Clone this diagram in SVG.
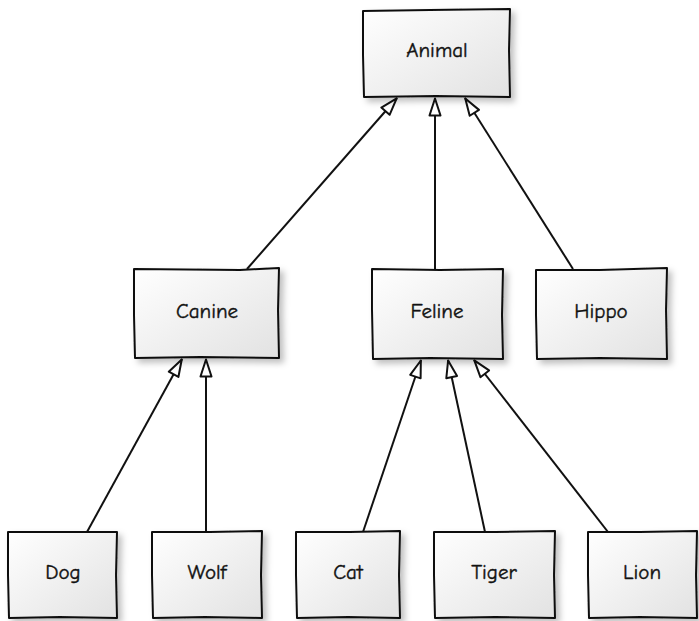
<svg xmlns="http://www.w3.org/2000/svg" width="699" height="621" viewBox="0 0 699 621">
  <style>
    .box { fill: url(#boxFill); stroke: #111; stroke-width: 2; stroke-linejoin: round; filter: url(#shadow); }
    .label { font-family: "Comic Neue", "DejaVu Sans", sans-serif; font-size: 21px; fill: #111; stroke: #111; stroke-width: 0.4; text-anchor: middle; dominant-baseline: central; }
    .edge { fill: none; stroke: #111; stroke-width: 2; marker-end: url(#inherit); }
  </style>
  <defs>
    <linearGradient id="boxFill" x1="0" y1="0" x2="1" y2="1">
      <stop offset="0" stop-color="#ffffff"/>
      <stop offset="1" stop-color="#e2e2e2"/>
    </linearGradient>
    <filter id="shadow" x="-10%" y="-10%" width="130%" height="130%">
      <feDropShadow dx="4" dy="4" stdDeviation="3" flood-color="#000" flood-opacity="0.25"/>
    </filter>
    <marker id="inherit" viewBox="0 0 20 14" refX="19" refY="7" markerWidth="20" markerHeight="14" markerUnits="userSpaceOnUse" orient="auto">
      <path d="M1.5,1.5 L18.5,7 L1.5,12.5 Z" fill="#fff" stroke="#111" stroke-width="2" stroke-linejoin="round"/>
    </marker>
  </defs>

  <!-- inheritance connectors: child -> parent -->
  <g id="connectors">
    <path class="edge" d="M247,269 L397,98"/>
    <path class="edge" d="M435,269 L435,98"/>
    <path class="edge" d="M573,269 L465,98"/>
    <path class="edge" d="M87,532 L182,359"/>
    <path class="edge" d="M206,532 L206,359"/>
    <path class="edge" d="M363,532 L421,360"/>
    <path class="edge" d="M485,532 L448,360"/>
    <path class="edge" d="M608,532 L474,360"/>
  </g>

  <g id="animal">
    <path class="box" d="M363,11 L430,10 L510,9 L509,50 L510,97 L436,96 L364,97 L363,55 Z"/>
    <text class="label" x="437" y="50">Animal</text>
  </g>
  <g id="canine">
    <path class="box" d="M134,269 L240,270 L279,268 L278,310 L279,358 L200,357 L135,358 L134,315 Z"/>
    <text class="label" x="207" y="311">Canine</text>
  </g>
  <g id="feline">
    <path class="box" d="M372,269 L440,270 L503,269 L502,315 L503,359 L430,358 L373,359 L372,310 Z"/>
    <text class="label" x="437" y="311">Feline</text>
  </g>
  <g id="hippo">
    <path class="box" d="M536,270 L600,270 L667,268 L666,310 L667,359 L600,358 L537,359 L536,315 Z"/>
    <text class="label" x="601" y="311">Hippo</text>
  </g>
  <g id="dog">
    <path class="box" d="M8,532 L60,532 L117,532 L116,575 L117,618 L60,617 L9,618 L8,575 Z"/>
    <text class="label" x="63" y="572">Dog</text>
  </g>
  <g id="wolf">
    <path class="box" d="M152,532 L210,532 L262,531 L261,575 L262,618 L205,617 L153,618 L152,575 Z"/>
    <text class="label" x="207" y="572">Wolf</text>
  </g>
  <g id="cat">
    <path class="box" d="M296,532 L350,532 L400,531 L399,575 L400,618 L348,617 L297,618 L296,575 Z"/>
    <text class="label" x="348" y="572">Cat</text>
  </g>
  <g id="tiger">
    <path class="box" d="M434,532 L495,532 L555,531 L554,575 L555,618 L495,617 L435,618 L434,575 Z"/>
    <text class="label" x="494" y="572">Tiger</text>
  </g>
  <g id="lion">
    <path class="box" d="M588,532 L640,532 L697,531 L696,575 L697,618 L640,617 L589,618 L588,575 Z"/>
    <text class="label" x="642" y="572">Lion</text>
  </g>
</svg>
